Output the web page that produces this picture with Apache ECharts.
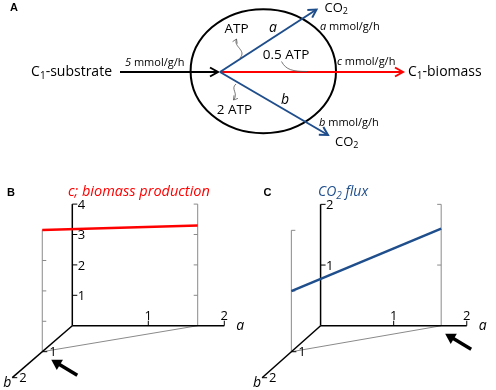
<!DOCTYPE html>
<html>
<head>
<meta charset="utf-8">
<script src="https://cdn.jsdelivr.net/npm/echarts@6/dist/echarts.min.js"></script>
<style>
  html, body { margin: 0; padding: 0; background: #fff; }
  #chart { width: 496px; height: 390px; }
</style>
</head>
<body>
<div id="chart"></div>
<script>
// fluxes, mmol/g/h
var substrateFlux = 5;
var atpYield = [1, 2, 0.5];          // per a, b, c

// the feasible line: its two ends in (a, b)
var cornerA = [0, 1.65];
var cornerB = [1, 0];
var biomassC = [4, 3.3];             // panel B, c along the line
var co2Flux = [1, 1.6];              // panel C, a + b along the line

var aTicks = [1, 2];
var bTicks = [1, 2];
var biomassTicks = [1, 2, 3, 4];
var co2Ticks = [1, 2];

var FONT = '"Open Sans", Lato, sans-serif';
var INK = '#000', GREY = '#8a8a8a', RED = '#ff0000', BLUE = '#1f4e8c', CURL = '#555';

var chart = echarts.init(document.getElementById('chart'));

// ---------- panel A: the scheme ----------
function chevron(x2, y2, ux, uy, len, hw, color, w) {
  var bx = x2 - ux * len, by = y2 - uy * len;
  return {
    type: 'polyline', z: 10,
    shape: { points: [[bx - uy * hw, by + ux * hw], [x2, y2], [bx + uy * hw, by - ux * hw]] },
    style: { stroke: color, lineWidth: w, fill: null }
  };
}
function arrow(x1, y1, x2, y2, color, w) {
  var dx = x2 - x1, dy = y2 - y1, L = Math.sqrt(dx * dx + dy * dy);
  return [
    { type: 'line', z: 10, shape: { x1: x1, y1: y1, x2: x2, y2: y2 }, style: { stroke: color, lineWidth: w } },
    chevron(x2, y2, dx / L, dy / L, 8, 4.5, color, w)
  ];
}
// rich styles: i = italic, t = normal, s = subscript (sits at the bottom of the line)
function richFor(size, color, italic) {
  var st = italic ? 'italic' : 'normal';
  return {
    i: { fontFamily: FONT, fontSize: size, fontStyle: 'italic', fill: color, lineHeight: size * 1.2 },
    t: { fontFamily: FONT, fontSize: size, fontStyle: st, fill: color, lineHeight: size * 1.2 },
    s: { fontFamily: FONT, fontSize: Math.round(size * 0.68), fontStyle: st, fill: color,
         height: size * 0.6, verticalAlign: 'bottom' }
  };
}
function txt(x, y, text, size, opt) {
  opt = opt || {};
  return {
    type: 'text', z: 20, x: x, y: y,
    style: Object.assign({
      text: text, fill: INK, fontFamily: FONT, fontSize: size,
      align: 'center', verticalAlign: 'middle',
      rich: richFor(size, opt.fill || INK, opt.fontStyle === 'italic')
    }, opt)
  };
}
function curl(x1, y1, c1x, c1y, c2x, c2y, x2, y2, head) {
  var out = [{ type: 'bezierCurve', z: 10,
    shape: { x1: x1, y1: y1, cpx1: c1x, cpy1: c1y, cpx2: c2x, cpy2: c2y, x2: x2, y2: y2 },
    style: { stroke: CURL, lineWidth: 0.8, fill: null } }];
  if (head) {
    var dx = x2 - c2x, dy = y2 - c2y, L = Math.sqrt(dx * dx + dy * dy);
    out.push(chevron(x2, y2, dx / L, dy / L, 4, 2.5, CURL, 0.8));
  }
  return out;
}

var schemeA = [].concat(
  [{ type: 'ellipse', z: 5, shape: { cx: 263.3, cy: 71.2, rx: 72.7, ry: 62 }, style: { stroke: INK, lineWidth: 2, fill: null } }],
  arrow(120, 72, 218, 72, INK, 2),
  arrow(220, 72, 403, 72, RED, 2),
  arrow(220, 72, 316.5, 9.5, BLUE, 2),
  arrow(220, 72, 328, 135, BLUE, 2),
  curl(240, 58, 247, 50, 233, 47, 236.5, 39, true),
  curl(236, 84, 230, 89, 239, 93, 233.5, 100, true),
  curl(281.5, 61.5, 286, 70, 293, 71.5, 307, 71.5, false),
  [
    txt(14, 8, 'A', 11, { fontFamily: 'Liberation Sans, Arial, sans-serif', fontWeight: 'bold' }),
    txt(112, 72, '{t|C}{s|1}{t|-substrate}', 14, { align: 'right' }),
    txt(125, 62.5, '{i|' + substrateFlux + '}{t| mmol/g/h}', 11, { align: 'left' }),
    txt(408, 72, '{t|C}{s|1}{t|-biomass}', 14, { align: 'left' }),
    txt(324.5, 8, '{t|CO}{s|2}', 13, { align: 'left' }),
    txt(335, 142, '{t|CO}{s|2}', 13, { align: 'left' }),
    txt(320, 27, '{i|a}{t| mmol/g/h}', 11, { align: 'left' }),
    txt(337, 62, '{i|c}{t| mmol/g/h}', 11, { align: 'left' }),
    txt(319, 123, '{i|b}{t| mmol/g/h}', 11, { align: 'left' }),
    txt(273, 28, 'a', 14, { fontStyle: 'italic' }),
    txt(285, 100, 'b', 14, { fontStyle: 'italic' }),
    txt(236.5, 29, 'ATP', 13.5),
    txt(286, 55, atpYield[2] + ' ATP', 13.5),
    txt(234.5, 110, atpYield[1] + ' ATP', 13.5)
  ]
);

// ---------- panels B and C: oblique 3-D views of the feasible line ----------
var panels = [
  { grid: { left: 3.9, top: 173.7, width: 250.8, height: 212.8 }, x: [-0.9, 2.4], y: [-2, 5],
    depth: [-0.395, -0.855], zTicks: biomassTicks, values: biomassC, color: RED,
    pointAt: 0, tipOff: [9, 8] },
  { grid: { left: 254.8, top: 174, width: 247.5, height: 212.45 }, x: [-0.9, 2.4], y: [-1, 2.5],
    depth: [-0.4, -0.428], zTicks: co2Ticks, values: co2Flux, color: BLUE,
    pointAt: 1, tipOff: [4, 8] }
];

function project(p, a, b, z) {
  return [a + b * p.depth[0], z + b * p.depth[1]];
}

function frame(p) {
  return function (params, api) {
    var P = function (a, b, z) { return api.coord(project(p, a, b, z)); };
    var kids = [];
    function seg(s, e, color, w) {
      kids.push({ type: 'line', shape: { x1: s[0], y1: s[1], x2: e[0], y2: e[1] }, style: { stroke: color, lineWidth: w } });
    }
    function lab(pt, text, align, va, extra) {
      kids.push({ type: 'text', x: pt[0], y: pt[1],
        style: Object.assign({ text: text, fill: INK, fontFamily: FONT, fontSize: 13, align: align, verticalAlign: va }, extra || {}) });
    }
    var zTop = p.zTicks[p.zTicks.length - 1];
    var aMax = aTicks[aTicks.length - 1], bMax = bTicks[bTicks.length - 1];

    // grey back frame at the two ends of the line
    var e0 = P(cornerA[0], cornerB[0], 0), e1 = P(cornerA[1], cornerB[1], 0);
    seg(e0, e1, GREY, 1);
    seg(e0, P(cornerA[0], cornerB[0], zTop), GREY, 1);
    seg(e1, P(cornerA[1], cornerB[1], zTop), GREY, 1);
    p.zTicks.forEach(function (z) {
      var q = P(cornerA[0], cornerB[0], z); seg(q, [q[0] + 4, q[1]], GREY, 1);
      var r = P(cornerA[1], cornerB[1], z); seg(r, [r[0] - 4, r[1]], GREY, 1);
    });

    // black axes
    var o = P(0, 0, 0);
    seg(o, P(0, 0, zTop), INK, 1.5);
    seg(o, P(aMax, 0, 0), INK, 1.5);
    seg(o, P(0, bMax, 0), INK, 1.5);
    p.zTicks.forEach(function (z) {
      var q = P(0, 0, z); seg(q, [q[0] + 5, q[1]], INK, 1);
      lab([q[0] + 5.5, q[1] + 1], String(z), 'left', 'middle');
    });
    aTicks.forEach(function (a) {
      var q = P(a, 0, 0); seg(q, [q[0], q[1] - 5], INK, 1);
      lab([q[0], q[1] - 3], String(a), 'center', 'bottom');
    });
    bTicks.forEach(function (b) {
      var q = P(0, b, 0); seg(q, [q[0] + 5, q[1]], INK, 1);
      lab([q[0] + 7, q[1] + 1], String(b), 'left', 'middle');
    });
    var qa = P(aMax, 0, 0);
    lab([qa[0] + 12, qa[1]], 'a', 'left', 'middle', { fontStyle: 'italic', fontSize: 14 });
    var qb = P(0, bMax, 0);
    lab([qb[0] - 1, qb[1] + 5], 'b', 'right', 'middle', { fontStyle: 'italic', fontSize: 14 });

    // thick arrow pointing at the optimum
    var t = P(cornerA[p.pointAt], cornerB[p.pointAt], 0);
    var tip = [t[0] + p.tipOff[0], t[1] + p.tipOff[1]];
    var tail = [tip[0] + 26, tip[1] + 15.5];
    var dx = tip[0] - tail[0], dy = tip[1] - tail[1], L = Math.sqrt(dx * dx + dy * dy), ux = dx / L, uy = dy / L;
    var hb = [tip[0] - ux * 10, tip[1] - uy * 10];
    seg(tail, [hb[0] + ux, hb[1] + uy], INK, 3.5);
    kids.push({ type: 'polygon', shape: { points: [tip, [hb[0] - uy * 6, hb[1] + ux * 6], [hb[0] + uy * 6, hb[1] - ux * 6]] },
      style: { fill: INK } });

    return { type: 'group', children: kids };
  };
}

var grids = [], xAxes = [], yAxes = [], series = [];
panels.forEach(function (p, i) {
  grids.push(p.grid);
  xAxes.push({ gridIndex: i, type: 'value', min: p.x[0], max: p.x[1], show: false });
  yAxes.push({ gridIndex: i, type: 'value', min: p.y[0], max: p.y[1], show: false });
  series.push({
    type: 'custom', xAxisIndex: i, yAxisIndex: i, data: [[0, 0]], z: 1, silent: true,
    renderItem: frame(p)
  });
  series.push({
    type: 'line', xAxisIndex: i, yAxisIndex: i, z: 3, silent: true, symbol: 'none',
    data: cornerA.map(function (a, k) { return project(p, a, cornerB[k], p.values[k]); }),
    lineStyle: { color: p.color, width: 2.5 }
  });
});

var titles = [
  txt(11, 193, 'B', 11, { fontFamily: 'Liberation Sans, Arial, sans-serif', fontWeight: 'bold' }),
  txt(68, 192, 'c; biomass production', 14.5, { align: 'left', fill: RED, fontStyle: 'italic' }),
  txt(267.5, 193, 'C', 11, { fontFamily: 'Liberation Sans, Arial, sans-serif', fontWeight: 'bold' }),
  txt(318, 192, '{t|CO}{s|2}{t| flux}', 14, { align: 'left', fill: BLUE, fontStyle: 'italic' })
];

chart.setOption({
  animation: false,
  grid: grids,
  xAxis: xAxes,
  yAxis: yAxes,
  series: series,
  graphic: { elements: schemeA.concat(titles) }
});
</script>
</body>
</html>
